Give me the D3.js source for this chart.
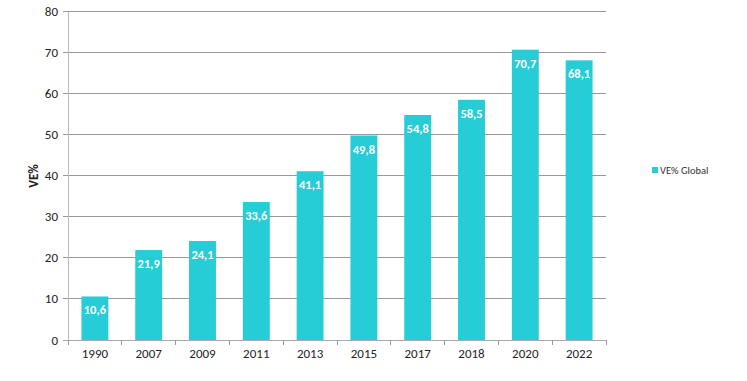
<!DOCTYPE html>
<html><head><meta charset="utf-8">
<script src="https://cdn.jsdelivr.net/npm/d3@7"></script>
<style>body{margin:0;background:#fff}svg{display:block}text{font-family:Calibri,Carlito,"Open Sans",sans-serif}</style>
</head><body><svg id="c" width="747" height="381"></svg>
<script>
const categories=["1990","2007","2009","2011","2013","2015","2017","2018","2020","2022"];
const values=[10.6,21.9,24.1,33.6,41.1,49.8,54.8,58.5,70.7,68.1];
const yTicks=[0,10,20,30,40,50,60,70,80];
const seriesName="VE% Global";
const yTitle="VE%";

const svg=d3.select("#c");
const L=68,R=606,T=11.5,B=340;
const x=d3.scaleBand().domain(categories).range([L,R]).paddingInner(0.5).paddingOuter(0.25);
const y=d3.scaleLinear().domain([0,80]).range([B,T]);
const color="#26ccd6";

svg.append("g").selectAll("line").data(yTicks).join("line")
 .attr("x1",L-5).attr("x2",R).attr("y1",d=>y(d)).attr("y2",d=>y(d))
 .attr("stroke",d=>d===0?"#aaa":"#999").attr("stroke-width",1).attr("shape-rendering","crispEdges");
svg.append("line").attr("x1",L).attr("x2",L).attr("y1",T).attr("y2",B).attr("stroke","#bbb").attr("shape-rendering","crispEdges");
svg.append("g").selectAll("text").data(yTicks).join("text")
 .attr("x",L-10).attr("y",d=>y(d)).attr("dy","0.35em").attr("text-anchor","end")
 .attr("font-size",13).attr("fill","#222").text(d=>d);
const bounds=d3.range(categories.length+1).map(i=>L+i*(R-L)/categories.length);
svg.append("g").selectAll("line").data(bounds).join("line")
 .attr("x1",d=>d).attr("x2",d=>d).attr("y1",B).attr("y2",B+5).attr("stroke","#999").attr("shape-rendering","crispEdges");
svg.append("g").selectAll("rect").data(values).join("rect")
 .attr("x",(d,i)=>x(categories[i])).attr("width",x.bandwidth())
 .attr("y",d=>y(d)).attr("height",d=>B-y(d)).attr("fill",color);
svg.append("g").selectAll("text").data(values).join("text")
 .attr("x",(d,i)=>x(categories[i])+x.bandwidth()/2).attr("y",d=>y(d)+18)
 .attr("text-anchor","middle").attr("font-size",12.5).attr("font-weight","bold").attr("fill","#fff")
 .text(d=>d.toFixed(1).replace(".",","));
svg.append("g").selectAll("text").data(categories).join("text")
 .attr("x",d=>x(d)+x.bandwidth()/2).attr("y",B+18).attr("text-anchor","middle")
 .attr("font-size",13).attr("fill","#222").text(d=>d);
svg.append("text").attr("transform","translate(38,176) rotate(-90)").attr("text-anchor","middle")
 .attr("font-size",13).attr("font-weight","bold").attr("fill","#222").text(yTitle);
svg.append("rect").attr("x",652).attr("y",167).attr("width",6).attr("height",6).attr("fill",color);
svg.append("text").attr("x",660).attr("y",170).attr("dy","0.35em").attr("font-size",10.5).attr("fill","#333").text(seriesName);
</script></body></html>
